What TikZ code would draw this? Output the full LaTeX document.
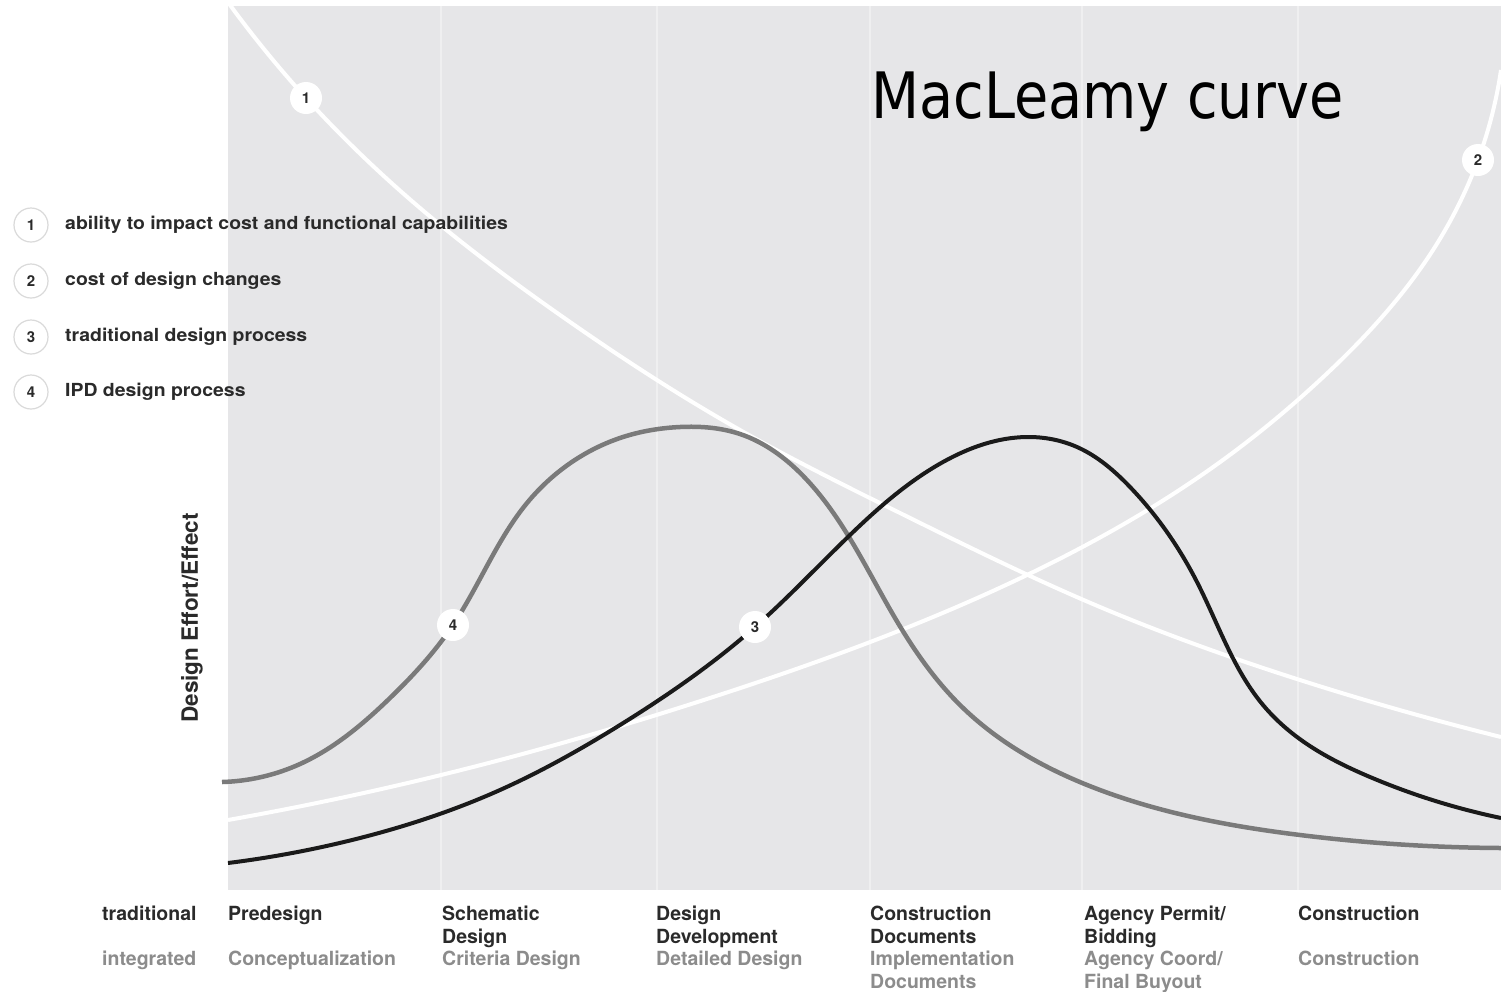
\documentclass[tikz,border=0pt]{standalone}
\usepackage{fontspec}
\usetikzlibrary{hobby}
\setmainfont{TeX Gyre Heros}
\newfontfamily\titlefont[FakeStretch=0.87]{DejaVu Sans}
\newfontfamily\widefont[FakeStretch=1.08]{TeX Gyre Heros}
\definecolor{plotbg}{HTML}{E6E6E8}
\definecolor{gridln}{HTML}{EFEFF0}
\definecolor{darktext}{HTML}{2A2A2A}
\definecolor{graytext}{HTML}{8C8C8C}
\definecolor{legline}{HTML}{DADADA}
\definecolor{ipdgray}{HTML}{7A7A7A}
\definecolor{tradblack}{HTML}{1A1A1A}
\begin{document}
\begin{tikzpicture}[x=1pt,y=-1pt,
  legcirc/.style={circle, draw=legline, line width=1.2pt, fill=white, minimum size=34pt, inner sep=0pt, font=\fontsize{15}{15}\selectfont\bfseries, text=darktext},
  curvelabel/.style={circle, fill=white, minimum size=32pt, inner sep=0pt, font=\fontsize{15}{15}\selectfont\bfseries, text=darktext},
  legtext/.style={anchor=west, inner sep=0pt, font=\widefont\fontsize{18}{20}\selectfont\bfseries, text=darktext},
  phase/.style={anchor=base west, inner sep=0pt, font=\fontsize{19.5}{22}\selectfont\bfseries, text=darktext},
  phaseint/.style={phase, text=graytext},
  gridline/.style={gridln, line width=2pt},
  whitecurve/.style={white, line width=4pt, use Hobby shortcut},
  ipdcurve/.style={ipdgray, line width=4.5pt, use Hobby shortcut},
  tradcurve/.style={tradblack, line width=4pt, use Hobby shortcut}
]
\useasboundingbox (0,0) rectangle (1501,991);
\fill[white] (0,0) rectangle (1501,991);
\fill[plotbg] (228,6) rectangle (1501,890);
% grid lines
\foreach \gx in {441,657,870,1082,1298}
  \draw[gridline] (\gx,6) -- (\gx,890);
% curve 1: ability to impact cost
\draw[whitecurve] (230,5) .. (306,98) .. (420,208) .. (560,315) .. (740,430) .. (900,513) .. (1100,607) .. (1300,680) .. (1501,737);
% curve 2: cost of design changes
\draw[whitecurve] (228,820) .. (500,760) .. (713,697) .. (1027,575) .. (1227,457) .. (1320,380) .. (1433,250) .. (1478,160) .. (1501,70);
% curve 4: IPD design process
\draw[ipdcurve] (222,782) .. (300,764) .. (390,698) .. (453,625) .. (527,503) .. (623,437) .. (680,427) .. (740,434) .. (807,480) .. (895,618) .. (960,705) .. (1100,790) .. (1300,835) .. (1501,848);
% curve 3: traditional design process
\draw[tradcurve] (228,863) .. (360,838) .. (500,790) .. (620,725) .. (755,627) .. (850,535) .. (943,462) .. (1027,437) .. (1077,447) .. (1130,487) .. (1197,582) .. (1263,705) .. (1297,737) .. (1370,777) .. (1501,818);
% curve labels
\node[curvelabel] (c1) at (306,98) {1};
\node[curvelabel] (c2) at (1478,160) {2};
\node[curvelabel] (c3) at (755,627) {3};
\node[curvelabel] (c4) at (453,625) {4};
% title
\node[anchor=base west, inner sep=0pt, font=\titlefont\fontsize{64}{64}\selectfont, text=black] (title) at (871,118) {MacLeamy curve};
% legend
\node[legcirc] (l1) at (31,225) {1};
\node[legcirc] (l2) at (31,281) {2};
\node[legcirc] (l3) at (31,337) {3};
\node[legcirc] (l4) at (31,392) {4};
\node[legtext] (t1) at (65,225) {ability to impact cost and functional capabilities};
\node[legtext] (t2) at (65,281) {cost of design changes};
\node[legtext] (t3) at (65,337) {traditional design process};
\node[legtext] (t4) at (65,392) {IPD design process};
% y axis label
\node[rotate=90, inner sep=0pt, font=\fontsize{22.5}{22.5}\selectfont\bfseries, text=darktext] (ylab) at (192,618) {Design Effort/Effect};
% phases
\node[phase] (trad) at (102,920) {traditional};
\node[phaseint] (integ) at (102,965) {integrated};
\node[phase] (p1) at (228,920) {Predesign};
\node[phaseint] (i1) at (228,965) {Conceptualization};
\node[phase] (p2) at (442,920) {Schematic};
\node[phase] (p2b) at (442,943) {Design};
\node[phaseint] (i2) at (442,965) {Criteria Design};
\node[phase] (p3) at (656,920) {Design};
\node[phase] (p3b) at (656,943) {Development};
\node[phaseint] (i3) at (656,965) {Detailed Design};
\node[phase] (p4) at (870,920) {Construction};
\node[phase] (p4b) at (870,943) {Documents};
\node[phaseint] (i4) at (870,965) {Implementation};
\node[phaseint] (i4b) at (870,988) {Documents};
\node[phase] (p5) at (1084,920) {Agency Permit/};
\node[phase] (p5b) at (1084,943) {Bidding};
\node[phaseint] (i5) at (1084,965) {Agency Coord/};
\node[phaseint] (i5b) at (1084,988) {Final Buyout};
\node[phase] (p6) at (1298,920) {Construction};
\node[phaseint] (i6) at (1298,965) {Construction};
\end{tikzpicture}
\end{document}
